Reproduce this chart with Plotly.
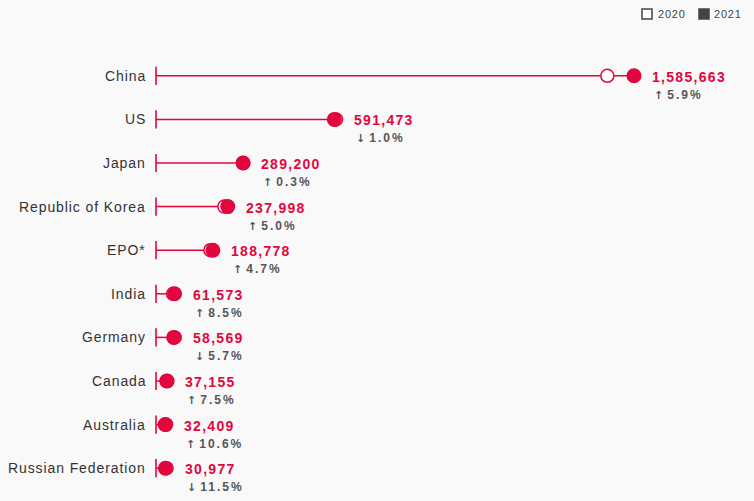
import plotly.graph_objects as go

countries = ["China", "US", "Japan", "Republic of Korea", "EPO*", "India",
             "Germany", "Canada", "Australia", "Russian Federation"]
values_2021 = [1585663, 591473, 289200, 237998, 188778, 61573, 58569, 37155, 32409, 30977]
values_2020 = [1497159, 597172, 288472, 226759, 180250, 56771, 62105, 34565, 29294, 34984]
pct_change = ["5.9%", "1.0%", "0.3%", "5.0%", "4.7%", "8.5%", "5.7%", "7.5%", "10.6%", "11.5%"]
pct_dir = ["up", "down", "up", "up", "up", "up", "down", "up", "up", "down"]
legend_labels = ["2020", "2021"]

RED = "#E2063E"
BG = "#F9F9F9"
FONT = "Liberation Sans, Arial, sans-serif"

W, H = 754, 501
ML, MR, MT, MB = 156, 12, 54, 11
PW, PH = W - ML - MR, H - MT - MB


def px_x(px):
    return (px - ML) / PW


def px_y(py):
    return (H - MB - py) / PH


def spaced(text, ls):
    return f'<span style="letter-spacing:{ls}px">{text}</span>'


n = len(countries)
ys = list(range(n))

fig = go.Figure()

lx, ly = [], []
for i in range(n):
    lx += [0, max(values_2020[i], values_2021[i]), None]
    ly += [i, i, None]
fig.add_trace(go.Scatter(x=lx, y=ly, mode="lines", line=dict(color=RED, width=1.5),
                         hoverinfo="skip", showlegend=False, cliponaxis=False))
fig.add_trace(go.Scatter(x=[0] * n, y=ys, mode="markers",
                         marker=dict(symbol="line-ns", size=13, line=dict(color=RED, width=1.6)),
                         hoverinfo="skip", showlegend=False, cliponaxis=False))
fig.add_trace(go.Scatter(x=values_2020, y=ys, mode="markers",
                         marker=dict(symbol="circle", size=13, color="white",
                                     line=dict(color=RED, width=1.5)),
                         showlegend=False, cliponaxis=False))
fig.add_trace(go.Scatter(x=values_2021, y=ys, mode="markers",
                         marker=dict(symbol="circle", size=15, color=RED,
                                     line=dict(color=RED, width=0)),
                         showlegend=False, cliponaxis=False))

annotations = []
for i in range(n):
    xm = max(values_2020[i], values_2021[i])
    annotations.append(dict(x=0, y=i, xref="x", yref="y", text=spaced(countries[i], 0.9),
                            xanchor="right", yanchor="middle", xshift=-8, showarrow=False,
                            font=dict(family=FONT, size=14, color="#333333")))
    annotations.append(dict(x=xm, y=i, xref="x", yref="y", text=spaced(f"{values_2021[i]:,}", 1.3),
                            xanchor="left", yanchor="middle", xshift=16, yshift=-1, showarrow=False,
                            font=dict(family=FONT, size=14, color=RED, weight="bold")))
    arrow = "\u2191" if pct_dir[i] == "up" else "\u2193"
    arrow_html = (f'<span style="font-family:DejaVu Sans;font-weight:bold;font-size:11px;'
                  f'letter-spacing:4px">{arrow}</span>')
    annotations.append(dict(x=xm, y=i, xref="x", yref="y",
                            text=arrow_html + spaced(pct_change[i], 2.0),
                            xanchor="left", yanchor="middle", xshift=18, yshift=-19, showarrow=False,
                            font=dict(family=FONT, size=12, color="#555555", weight="bold")))

# custom legend
leg_y = 14
annotations.append(dict(x=px_x(656), y=px_y(leg_y), xref="paper", yref="paper", xanchor="left",
                        yanchor="middle", text=spaced(legend_labels[0], 0.8), showarrow=False,
                        font=dict(family=FONT, size=11, color="#444444")))
annotations.append(dict(x=px_x(712), y=px_y(leg_y), xref="paper", yref="paper", xanchor="left",
                        yanchor="middle", text=spaced(legend_labels[1], 0.8), showarrow=False,
                        font=dict(family=FONT, size=11, color="#444444")))
shapes = [
    dict(type="rect", xref="paper", yref="paper", x0=px_x(642), x1=px_x(652),
         y0=px_y(leg_y + 5), y1=px_y(leg_y - 5), line=dict(color="#444444", width=1.5), fillcolor="white"),
    dict(type="rect", xref="paper", yref="paper", x0=px_x(699), x1=px_x(709),
         y0=px_y(leg_y + 5), y1=px_y(leg_y - 5), line=dict(color="#444444", width=1.5), fillcolor="#444444"),
]

xmax = 1585663 * PW / (634 - ML)
fig.update_layout(
    width=W, height=H,
    margin=dict(l=ML, r=MR, t=MT, b=MB),
    paper_bgcolor=BG, plot_bgcolor=BG,
    xaxis=dict(range=[0, xmax], visible=False, showgrid=False, zeroline=False, fixedrange=True),
    yaxis=dict(range=[n - 0.5, -0.5], visible=False, showgrid=False, zeroline=False, fixedrange=True),
    annotations=annotations, shapes=shapes, showlegend=False,
)

fig.write_html("out.html", config={"displayModeBar": False},
               post_script="document.body.style.margin='0';document.body.style.background='#F9F9F9';")
